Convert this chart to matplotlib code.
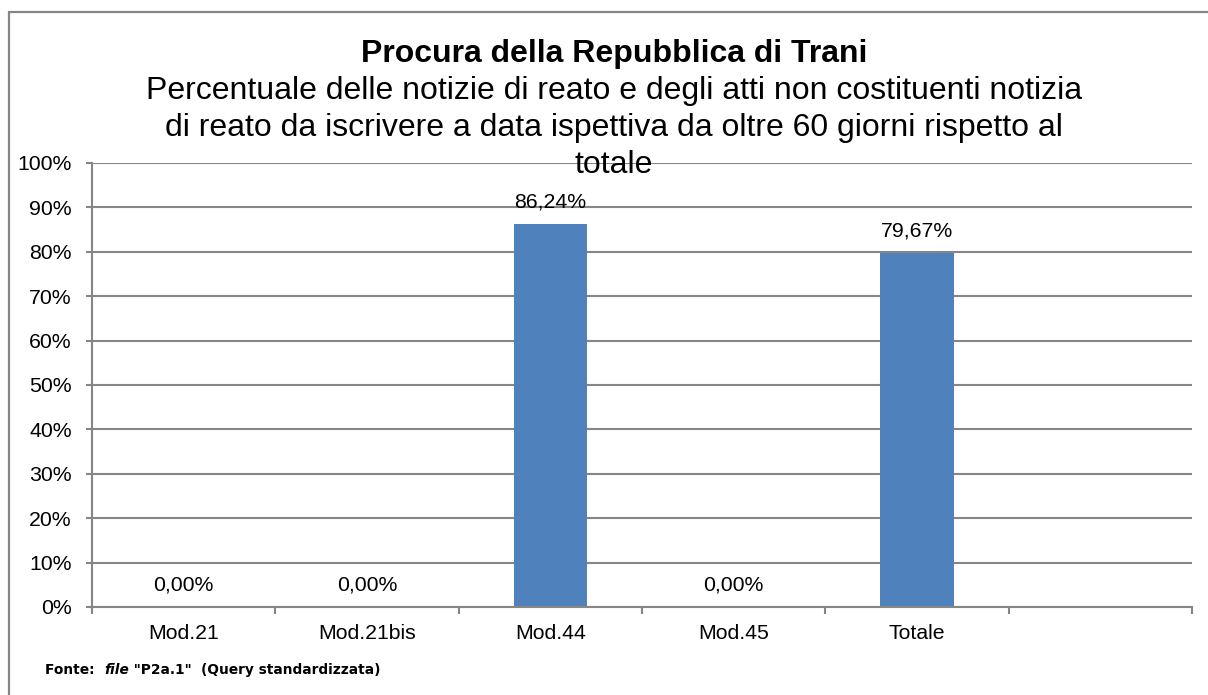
import matplotlib
matplotlib.use("Agg")
import matplotlib.pyplot as plt
from matplotlib.patches import Rectangle

categories = ["Mod.21", "Mod.21bis", "Mod.44", "Mod.45", "Totale"]
values = [0.00, 0.00, 86.24, 0.00, 79.67]
n_slots = 6
yticks = list(range(0, 101, 10))
title_line1 = "Procura della Repubblica di Trani"
subtitle_lines = [
    "Percentuale delle notizie di reato e degli atti non costituenti notizia",
    "di reato da iscrivere a data ispettiva da oltre 60 giorni rispetto al",
    "totale",
]

W, H = 1208, 695
fig = plt.figure(figsize=(W / 100, H / 100), dpi=100)
plt.rcParams['font.family'] = ['Liberation Sans', 'DejaVu Sans']

GRAY = "#868686"
BAR = "#4F81BD"
FS = 15.3

# outer chart border (only top/left visible)
fig.patches.append(Rectangle((9 / W, -0.1), 1.2, 1 - 12 / H + 0.1, transform=fig.transFigure,
                             fill=False, edgecolor=GRAY, linewidth=1.6, zorder=0))

ax = fig.add_axes([92 / W, (H - 607) / H, 1100 / W, 444 / H])
x = list(range(len(categories)))
ax.bar(x, values, width=0.4, color=BAR, zorder=3)
ax.set_xlim(-0.5, n_slots - 0.5)
ax.set_ylim(0, 100)
ax.set_yticks(yticks)
ax.set_yticklabels([f"{v}%" for v in yticks], fontsize=FS)
ax.yaxis.grid(True, color=GRAY, linewidth=1.5, zorder=0)
ax.set_axisbelow(True)
ax.tick_params(axis='y', length=4.5, width=1.5, color=GRAY, pad=10)

# x: ticks at slot boundaries, labels at centers
ax.set_xticks([i - 0.5 for i in range(n_slots + 1)])
ax.set_xticklabels([])
ax.set_xticks(x, minor=True)
ax.set_xticklabels(categories, minor=True, fontsize=FS)
ax.tick_params(axis='x', which='major', length=5, width=1.5, color=GRAY, direction='out')
ax.tick_params(axis='x', which='minor', length=0, pad=12)

for s in ['top', 'right']:
    ax.spines[s].set_visible(False)
ax.spines['left'].set_color(GRAY)
ax.spines['left'].set_linewidth(1.5)
ax.spines['bottom'].set_color(GRAY)
ax.spines['bottom'].set_linewidth(1.5)
ax.spines['bottom'].set_zorder(4)

for xi, v in zip(x, values):
    ax.annotate(f"{v:.2f}%".replace('.', ','), (xi, v), xytext=(0, 16),
                textcoords='offset points', ha='center', va='center', fontsize=FS, zorder=5)

cx = 614 / W
fig.text(cx, 1 - 62 / H, title_line1, ha='center', va='baseline', fontsize=23, fontweight='bold')
for line, yb in zip(subtitle_lines, [99, 136, 173]):
    fig.text(cx, 1 - yb / H, line, ha='center', va='baseline', fontsize=23, zorder=6)

# source note
fig.canvas.draw()
r = fig.canvas.get_renderer()
xpos = 45
parts = [("Fonte:  ", 'normal'), ("file", 'italic'), (' "P2a.1"  (Query standardizzata)', 'normal')]
for txt, style in parts:
    t = fig.text(xpos / W, 1 - 670 / H, txt, ha='left', va='center', fontsize=9.9,
                 fontweight='bold', fontstyle=style, family='DejaVu Sans')
    bb = t.get_window_extent(renderer=r)
    xpos += bb.width

fig.savefig("out.png", dpi=100)
